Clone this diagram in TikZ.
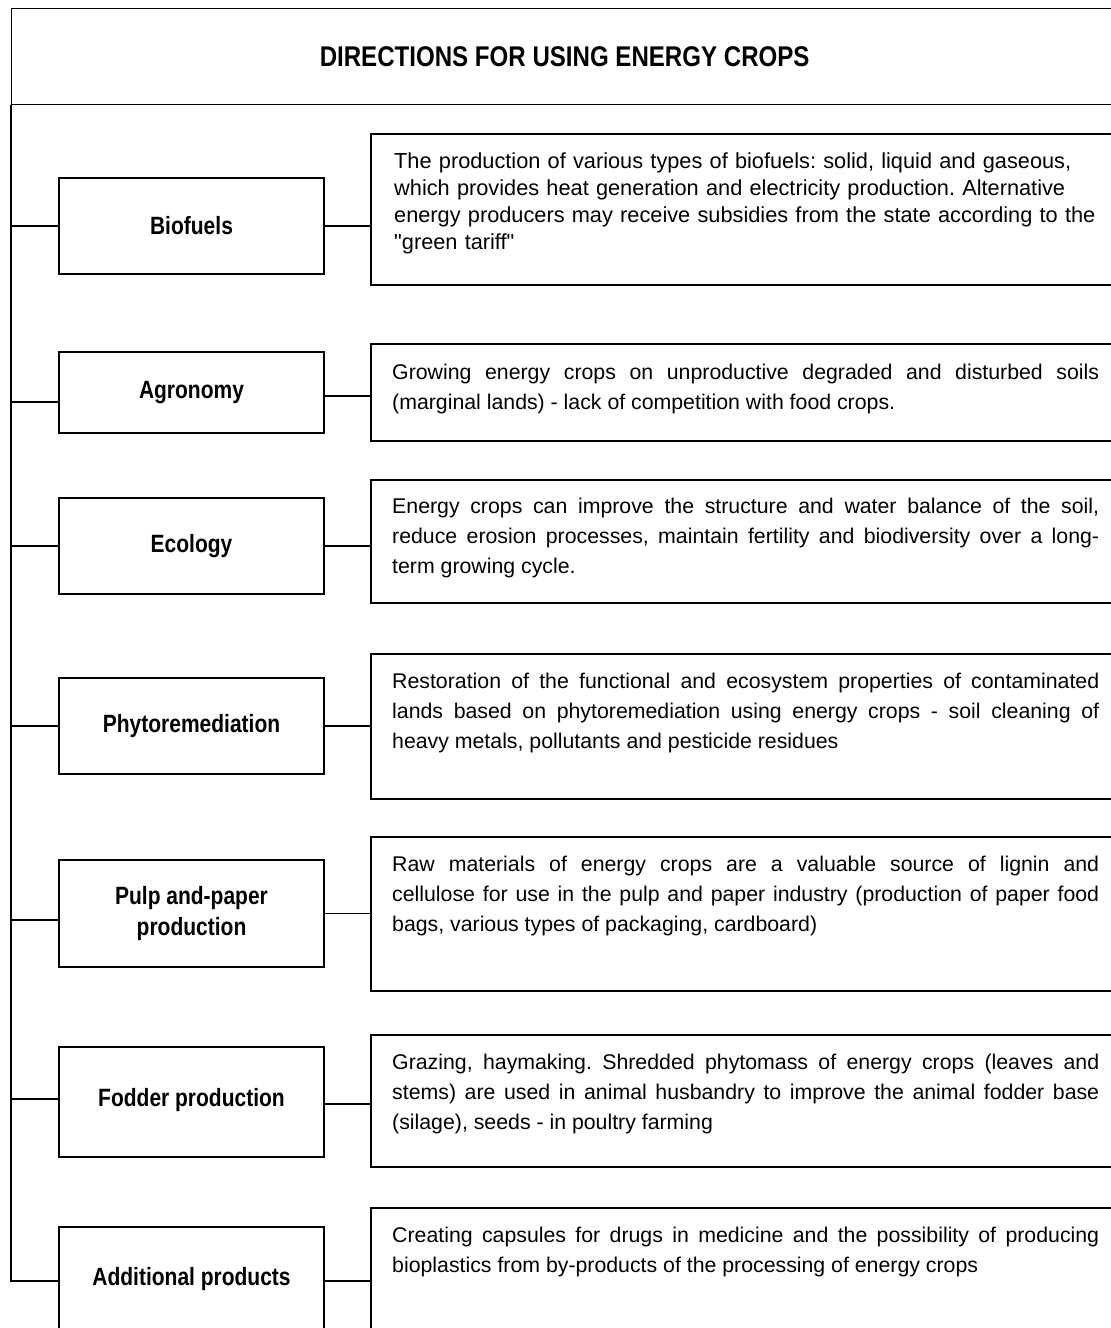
\documentclass[tikz,border=0pt]{standalone}
\usepackage{fontspec}
\setmainfont{Liberation Sans}[Ligatures=TeXOff]
\newfontfamily\lblfam{Liberation Sans}[FakeStretch=0.84]
\newfontfamily\titlefam{Liberation Sans}[FakeStretch=0.845]
\newcommand{\bodyfnt}{\fontsize{21.3}{30}\selectfont\spaceskip=5.9pt plus 3pt minus 1.5pt\relax}
\newcommand{\bodyfntb}{\fontsize{21.75}{26.8}\selectfont\spaceskip=6.05pt plus 3pt minus 1.5pt\relax}
\newcommand{\lblfnt}{\lblfam\fontsize{25}{31}\selectfont\bfseries\spaceskip=5.8pt plus 2pt minus 1pt\relax}
\newcommand{\ttlfnt}{\titlefam\fontsize{28.5}{32}\selectfont\bfseries\spaceskip=6.7pt plus 2pt minus 1pt\relax}
\tikzset{
  ln/.style={line width=1.3pt},
  lbox/.style={draw, ln, minimum width=265pt, inner sep=0pt, align=center, font=\lblfnt},
  rbox/.style={draw, ln, minimum width=754pt, inner sep=0pt},
  txt/.style={anchor=north west, inner sep=0pt, text width=707pt, align=justify, font=\bodyfnt},
  txtl/.style={txt, align=left, font=\bodyfntb},
}
\begin{document}
\tolerance=10000 \hyphenpenalty=10000 \frenchspacing
\begin{tikzpicture}[x=1pt, y=-1pt]
\useasboundingbox (0,0) rectangle (1111,1328);
\clip (0,0) rectangle (1111,1328);
\fill[white] (0,0) rectangle (1111,1328);
% header
\node[draw, ln, minimum width=1106pt, minimum height=96pt, anchor=north west, inner sep=0pt, font=\ttlfnt] (hdr) at (11,8) {DIRECTIONS FOR USING ENERGY CROPS};
% left boxes
\node[lbox, minimum height=96pt]  (l1) at (191.5,226)  {Biofuels};
\node[lbox, minimum height=81pt]  (l2) at (191.5,392.5) {Agronomy};
\node[lbox, minimum height=96pt]  (l3) at (191.5,546)  {Ecology};
\node[lbox, minimum height=96pt]  (l4) at (191.5,726)  {Phytoremediation};
\node[lbox, minimum height=107pt] (l5) at (191.5,913.5) {Pulp and-paper\\production};
\node[lbox, minimum height=110pt] (l6) at (191.5,1102) {\raisebox{10pt}{Fodder production}};
\node[lbox, minimum height=108pt] (l7) at (191.5,1281) {\raisebox{10pt}{Additional products}};
% right boxes
\node[rbox, minimum height=151pt] (r1) at (748,209.5) {};
\node[rbox, minimum height=97pt]  (r2) at (748,392.5) {};
\node[rbox, minimum height=123pt] (r3) at (748,541.5) {};
\node[rbox, minimum height=145pt] (r4) at (748,726.5) {};
\node[rbox, minimum height=154pt] (r5) at (748,914)   {};
\node[rbox, minimum height=132pt] (r6) at (748,1101)  {};
\node[rbox, minimum height=152pt] (r7) at (748,1284)  {};
% texts
\node[txtl] (t1) at (394,153) {The production of various types of biofuels: solid, liquid and gaseous,\\which provides heat generation and electricity production. Alternative\\energy producers may receive subsidies from the state according to the\\"green tariff"};
\node[txt] (t2) at (392,364) {Growing energy crops on unproductive degraded and disturbed soils\linebreak (marginal lands) - lack of competition with food crops.};
\node[txt] (t3) at (392,498) {Energy crops can improve the structure and water balance of the soil,\linebreak reduce erosion processes, maintain fertility and biodiversity over a long-\linebreak term growing cycle.};
\node[txt] (t4) at (392,673) {Restoration of the functional and ecosystem properties of contaminated\linebreak lands based on phytoremediation using energy crops - soil cleaning of\linebreak heavy metals, pollutants and pesticide residues};
\node[txt] (t5) at (392,856) {Raw materials of energy crops are a valuable source of lignin and\linebreak cellulose for use in the pulp and paper industry (production of paper food\linebreak bags, various types of packaging, cardboard)};
\node[txt] (t6) at (392,1054) {Grazing, haymaking. Shredded phytomass of energy crops (leaves and\linebreak stems) are used in animal husbandry to improve the animal fodder base\linebreak (silage), seeds - in poultry farming};
\node[txt] (t7) at (392,1227) {Creating capsules for drugs in medicine and the possibility of producing\linebreak bioplastics from by-products of the processing of energy crops};
% trunk
\draw[ln] (hdr.south west) -- (l7.west -| hdr.south west) -- (l7.west);
% left connectors
\draw[ln] (l1.west) -- (l1.west -| hdr.south west);
\draw[ln] ([yshift=-9.5pt]l2.west) -- ([yshift=-9.5pt]l2.west -| hdr.south west);
\draw[ln] (l3.west) -- (l3.west -| hdr.south west);
\draw[ln] (l4.west) -- (l4.west -| hdr.south west);
\draw[ln] ([yshift=-6.5pt]l5.west) -- ([yshift=-6.5pt]l5.west -| hdr.south west);
\draw[ln] ([yshift=3pt]l6.west) -- ([yshift=3pt]l6.west -| hdr.south west);
% right connectors
\draw[ln] (l1.east) -- (l1.east -| r1.west);
\draw[ln] ([yshift=-3.5pt]l2.east) -- ([yshift=-3.5pt]l2.east -| r2.west);
\draw[ln] (l3.east) -- (l3.east -| r3.west);
\draw[ln] (l4.east) -- (l4.east -| r4.west);
\draw[ln] (l5.east) -- (l5.east -| r5.west);
\draw[ln] ([yshift=-2pt]l6.east) -- ([yshift=-2pt]l6.east -| r6.west);
\draw[ln] (l7.east) -- (l7.east -| r7.west);
\end{tikzpicture}
\end{document}
